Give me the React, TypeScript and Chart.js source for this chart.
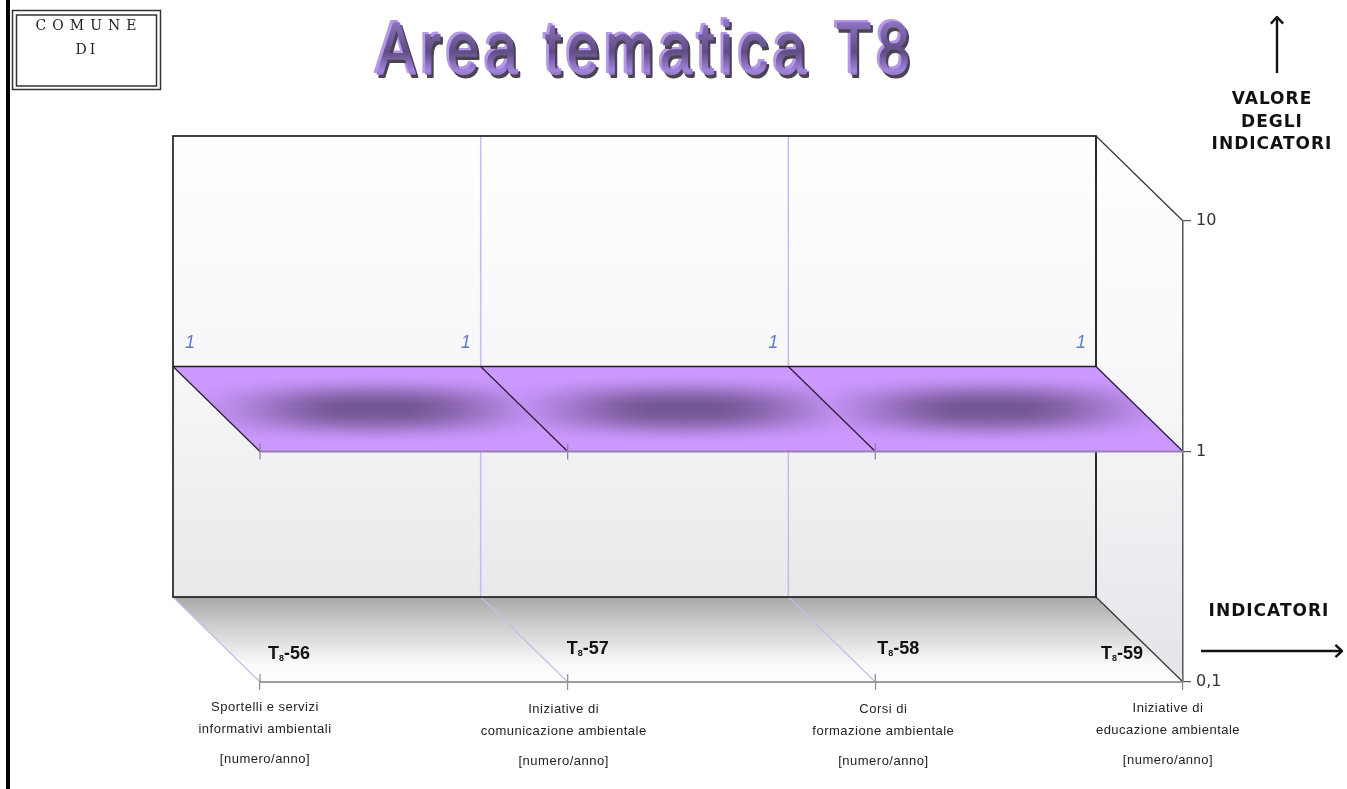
import React, { useEffect, useRef } from "react";
import { Chart, registerables } from "chart.js";

Chart.register(...registerables);

const codes = ["56", "57", "58", "59"];
const values = [1, 1, 1, 1];
const yTicks = [0.1, 1, 10];
const descriptions = [
  ["Sportelli e servizi", "informativi ambientali"],
  ["Iniziative di", "comunicazione ambientale"],
  ["Corsi di", "formazione ambientale"],
  ["Iniziative di", "educazione ambientale"],
];
const unit = "[numero/anno]";
const titleWords = ["Area", "tematica", "T8"];
const yAxisName = ["VALORE", "DEGLI", "INDICATORI"];
const xAxisName = "INDICATORI";

// Perspective offset from the front plane to the back wall.
const DEPTH_X = -87;
const DEPTH_Y = -85;

// Small per-category nudges for the captions below the axis.
const captionNudge = [
  { x: 5, y: 0 },
  { x: -4, y: 2 },
  { x: 8, y: 2 },
  { x: -15, y: 1 },
];
const codeNudge = [
  { x: 8, y: -28 },
  { x: -1, y: -33 },
  { x: 2, y: -33 },
  { x: -82, y: -28 },
];

type Pt = [number, number];

function poly(ctx: CanvasRenderingContext2D, pts: Pt[]) {
  ctx.beginPath();
  pts.forEach(([x, y], i) => (i ? ctx.lineTo(x, y) : ctx.moveTo(x, y)));
  ctx.closePath();
}

function segment(ctx: CanvasRenderingContext2D, a: Pt, b: Pt, color: string, width: number) {
  ctx.strokeStyle = color;
  ctx.lineWidth = width;
  ctx.beginPath();
  ctx.moveTo(a[0], a[1]);
  ctx.lineTo(b[0], b[1]);
  ctx.stroke();
}

function arrow(ctx: CanvasRenderingContext2D, from: Pt, to: Pt) {
  segment(ctx, from, to, "#111", 2.4);
  const ang = Math.atan2(to[1] - from[1], to[0] - from[0]);
  ctx.beginPath();
  ctx.moveTo(to[0] - 9 * Math.cos(ang - 0.75), to[1] - 9 * Math.sin(ang - 0.75));
  ctx.lineTo(to[0], to[1]);
  ctx.lineTo(to[0] - 9 * Math.cos(ang + 0.75), to[1] - 9 * Math.sin(ang + 0.75));
  ctx.stroke();
}

const smooth = (a: number, b: number, v: number) => {
  const s = Math.min(1, Math.max(0, (v - a) / (b - a)));
  return s * s * (3 - 2 * s);
};

// Ribbon cell shaded with whole-pixel vertical strips: light along the rims, dark towards the core.
function shadedCell(ctx: CanvasRenderingContext2D, pts: Pt[]) {
  const minX = Math.floor(Math.min(...pts.map((p) => p[0])));
  const maxX = Math.ceil(Math.max(...pts.map((p) => p[0])));
  const minY = Math.min(...pts.map((p) => p[1]));
  const maxY = Math.max(...pts.map((p) => p[1]));
  const cx = (minX + maxX) / 2 + 5;
  const halfW = (maxX - minX) / 2;
  const light = [204, 153, 255];
  const dark = [116, 86, 148];
  ctx.save();
  poly(ctx, pts);
  ctx.clip();
  for (let px = minX; px < maxX; px++) {
    const u = Math.abs(px + 0.5 - cx) / halfW;
    const across = 1 - smooth(0.1, 1, u);
    const grad = ctx.createLinearGradient(0, minY, 0, maxY);
    for (let n = 0; n <= 16; n++) {
      const f = n / 16;
      const v = Math.abs(f - 0.5) * 2;
      const reach = 0.85 - 0.12 * u;
      const k = across * (1 - smooth(0.05, reach, v));
      const c = light.map((l, j) => Math.round(l + (dark[j] - l) * k));
      grad.addColorStop(f, `rgb(${c[0]},${c[1]},${c[2]})`);
    }
    ctx.fillStyle = grad;
    ctx.fillRect(px, minY, 1, maxY - minY);
  }
  ctx.restore();
}

const scenePlugin = {
  id: "scene",
  // Walls and floor of the box, behind the axes.
  beforeDraw(chart: any) {
    const { ctx, scales } = chart;
    const x = scales.x;
    const y = scales.y;
    const xs = codes.map((_, i) => x.getPixelForValue(i));
    const top = y.getPixelForValue(10);
    const bottom = y.getPixelForValue(0.1);
    const L = xs[0];
    const R = xs[3];
    const backL = L + DEPTH_X;
    const backR = R + DEPTH_X;
    const backT = top + DEPTH_Y;
    const backB = bottom + DEPTH_Y;

    ctx.save();
    ctx.fillStyle = "#fff";
    ctx.fillRect(0, 0, chart.width, chart.height);

    // Page rule and the municipality box.
    ctx.fillStyle = "#000";
    ctx.fillRect(6, 0, 4, chart.height);
    ctx.strokeStyle = "#333";
    ctx.lineWidth = 1.5;
    ctx.strokeRect(12.5, 10.5, 148, 79);
    ctx.strokeRect(16.5, 15, 140, 71);

    // Back wall.
    const wall = ctx.createLinearGradient(0, backT, 0, backB);
    wall.addColorStop(0, "#ffffff");
    wall.addColorStop(0.45, "#f8f7f9");
    wall.addColorStop(1, "#e9e8eb");
    ctx.fillStyle = wall;
    ctx.fillRect(backL, backT, backR - backL, backB - backT);

    // Right wall.
    const side = ctx.createLinearGradient(0, backT, 0, bottom);
    side.addColorStop(0, "#ffffff");
    side.addColorStop(0.45, "#f8f7f9");
    side.addColorStop(1, "#e6e4e9");
    ctx.fillStyle = side;
    poly(ctx, [[backR, backT], [R, top], [R, bottom], [backR, backB]]);
    ctx.fill();

    // Floor.
    const floor = ctx.createLinearGradient(0, backB, 0, bottom);
    floor.addColorStop(0, "#a8a8a8");
    floor.addColorStop(0.35, "#cfcfcf");
    floor.addColorStop(0.8, "#fbfbfb");
    floor.addColorStop(1, "#ffffff");
    ctx.fillStyle = floor;
    poly(ctx, [[backL, backB], [backR, backB], [R, bottom], [L, bottom]]);
    ctx.fill();

    // Category lines running up the back wall and across the floor.
    xs.slice(0, 3).forEach((px, i) => {
      if (i > 0) segment(ctx, [px + DEPTH_X, backT], [px + DEPTH_X, backB], "#cdb8ec", 1.5);
      segment(ctx, [px + DEPTH_X, backB], [px, bottom], "#c9bce6", 1.2);
    });

    segment(ctx, [backR, backT], [backR, backB], "#333", 1.5);
    segment(ctx, [backR, backT], [R, top], "#333", 1.2);
    segment(ctx, [backR, backB], [R, bottom], "#333", 1.2);
    ctx.strokeStyle = "#222";
    ctx.lineWidth = 1.7;
    ctx.strokeRect(backL, backT, backR - backL, backB - backT);
    ctx.restore();
  },
  // Ribbon joining the front line to the back wall.
  beforeDatasetsDraw(chart: any) {
    const { ctx, scales } = chart;
    const x = scales.x;
    const y = scales.y;
    ctx.save();
    for (let i = 0; i < values.length - 1; i++) {
      const x0 = x.getPixelForValue(i);
      const x1 = x.getPixelForValue(i + 1);
      const y0 = y.getPixelForValue(values[i]);
      const y1 = y.getPixelForValue(values[i + 1]);
      shadedCell(ctx, [
        [x0 + DEPTH_X, y0 + DEPTH_Y],
        [x1 + DEPTH_X, y1 + DEPTH_Y],
        [x1, y1],
        [x0, y0],
      ]);
    }
    values.forEach((v, i) => {
      const px = x.getPixelForValue(i);
      const py = y.getPixelForValue(v);
      segment(ctx, [px + DEPTH_X, py + DEPTH_Y], [px, py], "#2a1e3c", 1.3);
      if (i < 3) {
        segment(ctx, [px, py - 8], [px, py + 8], "#8a7f98", 1.2);
        const nx = x.getPixelForValue(i + 1);
        segment(ctx, [px + DEPTH_X, py + DEPTH_Y], [nx + DEPTH_X, py + DEPTH_Y], "#222", 1.7);
      }
    });
    ctx.restore();
  },
  // Text, arrows and the upper half of the category ticks.
  afterDraw(chart: any) {
    const { ctx, scales } = chart;
    const x = scales.x;
    const y = scales.y;
    const bottom = y.getPixelForValue(0.1);
    ctx.save();
    ctx.textBaseline = "middle";
    ctx.textAlign = "center";

    // Municipality box text.
    ctx.fillStyle = "#222";
    ctx.font = "14px 'DejaVu Serif'";
    ctx.letterSpacing = "6px";
    ctx.fillText("COMUNE", 89, 26);
    ctx.letterSpacing = "3px";
    ctx.fillText("DI", 87, 50);
    ctx.letterSpacing = "0px";

    // Layered title: highlight, shadow and face, word by word.
    ctx.textAlign = "left";
    ctx.font = "58px 'Liberation Sans'";
    ctx.letterSpacing = "6px";
    ctx.lineJoin = "round";
    const wordX = [377, 545, 836];
    const layer = (dx: number, dy: number, style: string | CanvasGradient, stroke: number) => {
      ctx.save();
      ctx.translate(0, 54 + dy);
      ctx.scale(1, 1.28);
      ctx.fillStyle = style;
      ctx.strokeStyle = style;
      ctx.lineWidth = stroke;
      titleWords.forEach((w, i) => {
        ctx.fillText(w, wordX[i] + dx, 0);
        ctx.strokeText(w, wordX[i] + dx, 0);
      });
      ctx.restore();
    };
    layer(-2.5, -2.5, "#b597ea", 1.6);
    layer(2, 2.5, "#4a4452", 1.6);
    const face = ctx.createLinearGradient(0, -26, 0, 28);
    face.addColorStop(0, "#8f74c0");
    face.addColorStop(0.45, "#5f4d82");
    face.addColorStop(0.72, "#a384dc");
    face.addColorStop(1, "#5a4c72");
    layer(0, 0, face, 1);
    ctx.letterSpacing = "0px";

    // Axis names and arrows.
    ctx.textAlign = "center";
    ctx.fillStyle = "#111";
    ctx.font = "bold 17px 'DejaVu Sans'";
    ctx.letterSpacing = "1px";
    yAxisName.forEach((line, i) => ctx.fillText(line, 1272, 100 + i * 22.5));
    ctx.fillText(xAxisName, 1269, 612);
    ctx.letterSpacing = "0px";
    arrow(ctx, [1277, 73], [1277, 17]);
    arrow(ctx, [1201, 651], [1342, 651]);

    codes.forEach((code, i) => {
      const px = x.getPixelForValue(i);
      const py = y.getPixelForValue(values[i]);

      // Value labels on the back wall.
      const bx = px + DEPTH_X;
      ctx.textAlign = "center";
      ctx.fillStyle = "#5b7fc4";
      ctx.font = "italic 18px 'Liberation Sans'";
      ctx.fillText(String(values[i]).replace(".", ","), i === 0 ? bx + 17 : bx - 15, py + DEPTH_Y - 24);

      // Category code with its subscript.
      const cx = px + codeNudge[i].x;
      const cy = bottom + codeNudge[i].y;
      ctx.textAlign = "left";
      ctx.fillStyle = "#111";
      ctx.font = "bold 18px 'Liberation Sans'";
      ctx.fillText("T", cx, cy);
      const tw = ctx.measureText("T").width;
      ctx.font = "bold 9px 'Liberation Sans'";
      ctx.fillText("8", cx + tw, cy + 5);
      ctx.font = "bold 18px 'Liberation Sans'";
      ctx.fillText("-" + code, cx + tw + 5, cy);

      // Caption under the axis.
      const lx = px + captionNudge[i].x;
      const ly = bottom + captionNudge[i].y;
      ctx.textAlign = "center";
      ctx.fillStyle = "#222";
      ctx.font = "13px 'Liberation Sans'";
      ctx.letterSpacing = "0.5px";
      ctx.fillText(descriptions[i][0], lx, ly + 25);
      ctx.fillText(descriptions[i][1], lx, ly + 47);
      ctx.fillText(unit, lx, ly + 77);
      ctx.letterSpacing = "0px";

      segment(ctx, [px, bottom - 8], [px, bottom], "#8c8c8c", 1.2);
    });
    ctx.restore();
  },
};

export default function App() {
  const canvasRef = useRef<HTMLCanvasElement>(null);

  useEffect(() => {
    const chart = new Chart(canvasRef.current as HTMLCanvasElement, {
      type: "line",
      data: {
        labels: codes.map((c) => "T8-" + c),
        datasets: [
          {
            data: values,
            borderColor: "#9a7fb6",
            borderWidth: 2,
            pointRadius: 0,
            tension: 0,
            clip: false,
          },
        ],
      },
      options: {
        animation: false,
        responsive: false,
        layout: { padding: { left: 260, top: 221, right: 0, bottom: 0 } },
        plugins: { legend: { display: false }, title: { display: false }, tooltip: { enabled: false } },
        scales: {
          x: {
            type: "category",
            offset: false,
            afterFit: (s: any) => {
              s.height = 107;
            },
            ticks: { display: false },
            border: { display: true, color: "#9c9c9c", width: 2 },
            grid: { drawOnChartArea: false, drawTicks: true, tickLength: 8, color: "#8c8c8c", lineWidth: 1.2 },
          },
          y: {
            type: "logarithmic",
            position: "right",
            min: 0.1,
            max: 10,
            afterFit: (s: any) => {
              s.width = 164;
            },
            afterBuildTicks: (s: any) => {
              s.ticks = yTicks.map((value) => ({ value }));
            },
            ticks: {
              autoSkip: false,
              padding: 5,
              color: "#333",
              font: { family: "'DejaVu Sans'", size: 16 },
              callback: (v: any) => String(v).replace(".", ","),
            },
            border: { display: true, color: "#555", width: 1.5 },
            grid: { drawOnChartArea: false, drawTicks: true, tickLength: 8, color: "#555", lineWidth: 1.2 },
          },
        },
      },
      plugins: [scenePlugin],
    } as any);
    return () => chart.destroy();
  }, []);

  return (
    <canvas
      ref={canvasRef}
      width={1347}
      height={789}
      style={{ position: "absolute", left: 0, top: 0, display: "block" }}
    />
  );
}
